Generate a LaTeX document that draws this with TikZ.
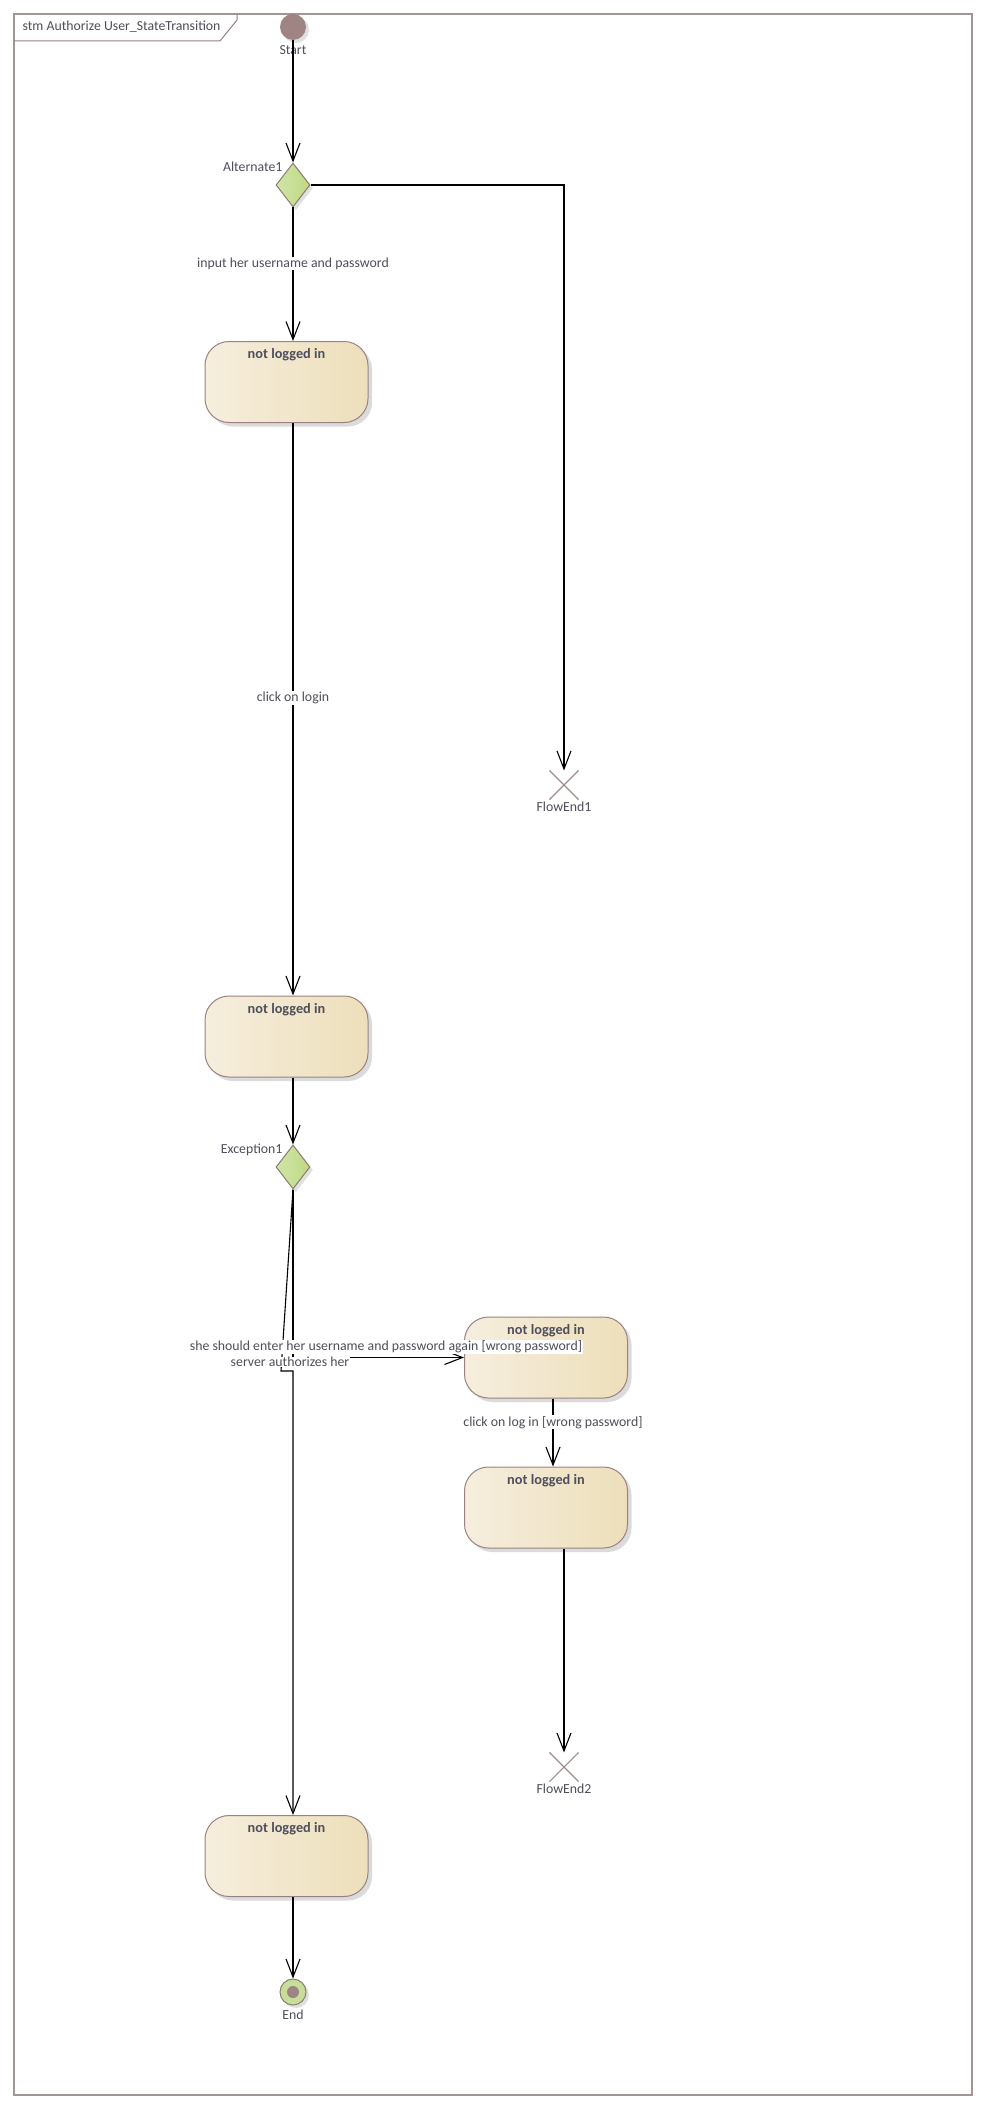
\documentclass[tikz,border=0pt]{standalone}
\usepackage{fontspec}
\setmainfont{Carlito}
\usetikzlibrary{arrows.meta,shapes.geometric,shapes.misc,shadows}

\definecolor{frameC}{RGB}{164,148,148}
\definecolor{tabC}{RGB}{150,130,130}
\definecolor{txtC}{RGB}{78,78,92}
\definecolor{stateL}{RGB}{246,238,222}
\definecolor{stateR}{RGB}{237,223,186}
\definecolor{stateB}{RGB}{154,130,130}
\definecolor{decL}{RGB}{208,229,168}
\definecolor{decR}{RGB}{190,217,130}
\definecolor{decB}{RGB}{140,124,112}
\definecolor{initC}{RGB}{158,133,132}
\definecolor{endG}{RGB}{198,222,152}
\definecolor{xC}{RGB}{160,140,140}

\begin{document}
\begin{tikzpicture}[x=1pt,y=-1pt,
  every node/.style={font=\fontsize{13.8}{15}\selectfont, text=txtC},
  statebox/.style={draw=stateB, line width=1pt, rounded corners=24pt,
    minimum width=163pt, minimum height=81pt, inner sep=0pt,
    left color=stateL, right color=stateR,
    general shadow={fill=black!14, shadow xshift=4pt, shadow yshift=-4pt},
    label={[anchor=north, yshift=-4pt, font=\fontsize{14.3}{16}\selectfont\bfseries, text=txtC]north:not logged in}},
  decision/.style={diamond, draw=decB, line width=1pt, minimum width=34pt,
    minimum height=44pt, inner sep=0pt, left color=decL, right color=decR,
    general shadow={fill=black!12, shadow xshift=3pt, shadow yshift=-3pt}},
  initst/.style={circle, fill=initC, minimum size=26pt, inner sep=0pt,
    general shadow={fill=black!12, shadow xshift=3pt, shadow yshift=-3pt}},
  finalst/.style={circle, draw=decB, fill=endG, minimum size=26pt, inner sep=0pt,
    line width=1pt,
    general shadow={fill=black!12, shadow xshift=3pt, shadow yshift=-3pt},
    path picture={\fill[initC] (path picture bounding box.center) circle (6pt);}},
  flowend/.style={cross out, draw=xC, line width=1.1pt, minimum size=28pt, inner sep=0pt},
  trans/.style={draw=black, line width=1.1pt, -{Straight Barb[length=18pt,width=14pt]}},
  lbl/.style={fill=white, inner sep=1pt}
]
\useasboundingbox (0,0) rectangle (989,2116);
\fill[white] (0,0) rectangle (989,2116);

% frame
\draw[frameC, line width=2pt] (14,14) rectangle (972,2095);
\draw[tabC, line width=1pt] (14,41) -- (220,41) -- (237,20) -- (237,14);
\node (title) [anchor=west] at (19,27) {stm Authorize User\_StateTransition};

% nodes
\node[initst] (start) at (293,27) {};
\node (startlbl) at (293,50) {Start};

\node[decision] (alt) at (293,185) {};
\node (altlbl) [anchor=east] at (286,167) {Alternate1};

\node[statebox] (st1) at (286.5,382) {};
\node[statebox] (st2) at (286.5,1036.5) {};

\node[flowend] (fe1) at (564,785) {};
\node (fe1lbl) at (564,807) {FlowEnd1};

\node[decision] (exc) at (293,1167) {};
\node (exclbl) [anchor=east] at (286,1150) {Exception1};

\node[statebox] (st3) at (546,1357.5) {};
\node[statebox] (st4) at (546,1507.5) {};

\node[flowend] (fe2) at (564,1767) {};
\node (fe2lbl) at (564,1789) {FlowEnd2};

\node[statebox] (st5) at (286.5,1856) {};

\node[finalst] (end) at (293,1992) {};
\node (endlbl) at (293,2015) {End};

\coordinate (bend1) at (281,1371);
\coordinate (bend2) at (293,1371);

% transitions
\draw[trans] (start.south) -- (alt.north);
\draw[trans] (alt.south) -- (st1.north -| alt)
  node[lbl, pos=0.42] (l1) {input her username and password};
\draw[trans] (alt.east) -| (fe1.north);
\draw[trans] (st1.south -| alt) -- (st2.north -| alt)
  node[lbl, pos=0.48] (l2) {click on login};
\draw[trans] (st2.south -| exc) -- (exc.north);
\draw[trans] (exc.south) |- (st3.west);
\draw[trans] (exc.south) -- (bend1) -- (bend2) -- (st5.north -| exc);
\draw[trans] ([xshift=7pt]st3.south) -- ([xshift=7pt]st4.north)
  node[lbl, pos=0.35] (l5) {click on log in [wrong password]};
\draw[trans] (st4.south -| fe2) -- (fe2.north);
\draw[trans] (st5.south -| end) -- (end.north);

% labels of the exception transitions
\node[lbl, inner sep=0.5pt] (l3) at (386,1347) {she should enter her username and password again [wrong password]};
\node[lbl, inner sep=0.5pt] (l4) at (290,1362) {server authorizes her};
\end{tikzpicture}
\end{document}
